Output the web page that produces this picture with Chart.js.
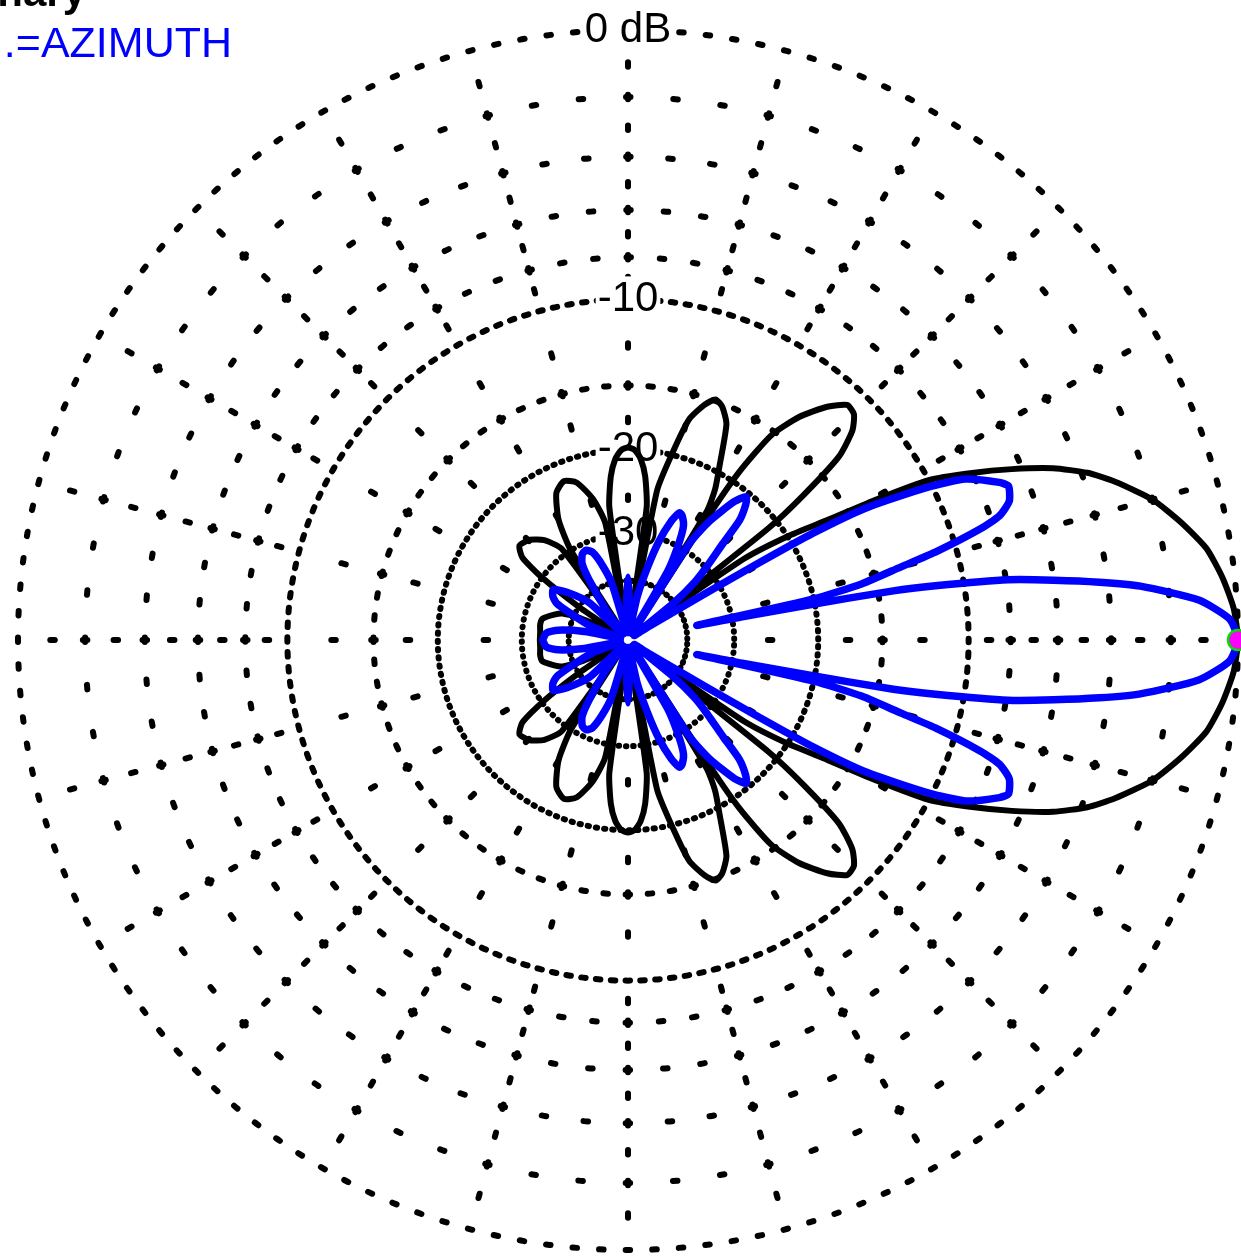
<!DOCTYPE html>
<html>
<head>
<meta charset="utf-8">
<script src="https://cdn.jsdelivr.net/npm/chart.js@4/dist/chart.umd.min.js"></script>
<style>
  html, body { margin: 0; padding: 0; background: #fff; overflow: hidden; width: 1241px; height: 1258px; }
  #polar { position: absolute; left: -5px; top: 0; }
</style>
</head>
<body>
<canvas id="polar" width="1267" height="1274"></canvas>
<script>
// azimuth in degrees (0 = right, counter-clockwise), gain in dB
const blackAz = [
  -180, -175, -170, -166, -161, -158, -155.5, -153, -148, -146, -144, -142, -139, -134.5, -130, -126,
  -124, -122.5, -120, -116, -112, -108, -104, -101, -99.5, -98, -96, -94, -92, -90, -88, -86, -84, -82,
  -80.5, -79, -76.5, -74.5, -72, -70, -68, -65.5, -62.5, -60, -58.5, -57.5, -57, -56.5, -55, -52.5,
  -49.5, -47, -45, -43, -41, -39.5, -38.5, -37.5, -35, -33, -31, -29.5, -28, -26, -24, -22, -20, -18,
  -15, -12, -9, -6, -3,
  0, 3, 6, 9, 12, 15, 18, 20, 22, 24, 26, 28, 29.5, 31, 33, 35, 37.5, 38.5, 39.5, 41, 43, 45, 47, 49.5,
  52.5, 55, 56.5, 57, 57.5, 58.5, 60, 62.5, 65.5, 68, 70, 72, 74.5, 76.5, 79, 80.5, 82, 84, 86, 88, 90,
  92, 94, 96, 98, 99.5, 101, 104, 108, 112, 116, 120, 122.5, 124, 126, 130, 134.5, 139, 142, 144, 146,
  148, 153, 155.5, 158, 161, 166, 170, 175
];
const blackDb = [
  -33.2, -33.2, -33.0, -33.2, -35.3, -37, -42, -55, -70, -40, -30, -26, -24.8, -25.2, -26.5, -29,
  -70, -30, -25.4, -22.6, -21.8, -22.4, -24.6, -28, -70, -26, -22.5, -20.8, -20, -19.8, -20, -20.8, -22.5, -26,
  -70, -23.8, -19.6, -16.8, -15.5, -14.9, -15.2, -16.2, -19.2, -21.5, -24, -70, -24, -19, -15.3, -13.3,
  -11.8, -11.0, -11.1, -11.8, -13.4, -17, -21, -45, -25, -20, -16.5, -13, -10.0, -8.1, -6.4, -4.9, -3.8, -3.0,
  -2.0, -1.3, -0.7, -0.35, -0.1,
  0, -0.1, -0.35, -0.7, -1.3, -2.0, -3.0, -3.8, -4.9, -6.4, -8.1, -10.0, -13, -16.5, -20, -25, -45, -21, -17, -13.4, -11.8, -11.1, -11.0, -11.8,
  -13.3, -15.3, -19, -24, -70, -24, -21.5, -19.2, -16.2, -15.2, -14.9, -15.5, -16.8, -19.6, -23.8, -70, -26, -22.5, -20.8, -20, -19.8,
  -20, -20.8, -22.5, -26, -70, -28, -24.6, -22.4, -21.8, -22.6, -25.4, -30, -70, -29, -26.5, -25.2, -24.8, -26, -30, -40,
  -70, -55, -42, -37, -35.3, -33.2, -33.0, -33.2
];

const blueAz = [
  -180, -175, -172, -169, -165, -160, -157, -153, -150, -146, -142, -136, -130, -126, -123, -121, -118,
  -115, -112, -109, -106, -100, -96, -92, -90, -88, -84, -78, -75, -72.5, -70, -68, -66.5, -64, -62, -60,
  -58.5, -57.5, -55.5, -52.5, -50.5, -49, -47, -45.5, -43, -41, -39, -36, -33, -31, -30.5, -30, -29, -27,
  -25.5, -23, -22, -20, -18.5, -17.5, -16, -15, -13.5, -12.5, -12, -11.5, -11, -10.5, -10, -9, -8, -7,
  -6, -4, -2,
  0, 2, 4, 6, 7, 8, 9, 10, 10.5, 11, 11.5, 12, 12.5, 13.5, 15, 16, 17.5, 18.5, 20, 22, 23, 25.5, 27, 29,
  30, 30.5, 31, 33, 36, 39, 41, 43, 45.5, 47, 49, 50.5, 52.5, 55.5, 57.5, 58.5, 60, 62, 64, 66.5, 68, 70,
  72.5, 75, 78, 84, 88, 90, 92, 96, 100, 106, 109, 112, 115, 118, 121, 123, 126, 130, 136, 142, 146, 150,
  153, 157, 160, 165, 169, 172, 175
];
const blueDb = [
  -33.8, -34.5, -37, -45, -75, -48, -42, -35, -33.5, -32.8, -35.4, -41.7, -75, -48, -37, -33, -31.5,
  -31.2, -32, -35, -40, -75, -75, -48, -39, -48, -75, -45, -36, -30.3, -27, -25.6, -25.8, -27, -30, -35,
  -75, -28.6, -24.7, -21.5, -20.4, -21, -22.6, -25.8, -29.7, -33, -40, -75, -55, -33, -24, -18, -13.8, -10.2,
  -8.4, -7.1, -6.8, -7.0, -7.6, -8.6, -11, -13.2, -16, -20, -37, -28, -21, -14, -11.5, -7.9, -6.0, -4.3,
  -2.9, -1.1, -0.23,
  0, -0.23, -1.1, -2.9, -4.3, -6.0, -7.9, -11.5, -14, -21, -28, -37, -20, -16, -13.2, -11, -8.6, -7.6, -7.0, -6.8, -7.1, -8.4, -10.2, -13.8,
  -18, -24, -33, -55, -75, -40, -33, -29.7, -25.8, -22.6, -21, -20.4, -21.5, -24.7, -28.6, -75, -35, -30, -27, -25.8, -25.6, -27,
  -30.3, -36, -45, -75, -48, -39, -48, -75, -75, -40, -35, -32, -31.2, -31.5, -33, -37, -48, -75, -41.7, -35.4, -32.8, -33.5,
  -35, -42, -48, -75, -45, -37, -34.5
];

const markerAz = [0];
const markerDb = [0];

// grid rings (dB), dot spacing along each ring (degrees) and the labels
const ringDb      = [-40, -30, -20, -15, -10, -8, -6, -4, -2, 0];
const ringStepDeg = [6,   4,   2.5, 5,   2.5, 5,  5,  5,  5,  2.5];
const ringText    = ['', '-30', '-20', '', '-10', '', '', '', '', '0 dB'];
// radial spokes every 15 degrees, dotted at these levels
const spokeEveryDeg = 15;
const spokeDotDb = [-1, -2, -3, -4, -5, -6, -7, -8, -9, -12.5, -15, -17.5, -25];

const STEP = 0.5;
const N = 360 / STEP;
const DOT = 4.5;
const SHIFT_X = 5; // canvas sits 5px left of the page edge

// ARRL log-periodic radius: 0.89 per 2 dB
function arrl(db) { return Math.pow(0.89, -db / 2); }
function idxOf(az) { return Math.round((((90 - az) % 360) + 360) % 360 / STEP); }
function toSeries(az, db) {
  const out = new Array(N).fill(null);
  az.forEach((a, i) => { out[idxOf(a)] = arrl(db[i]); });
  return out;
}

const labels = [];
for (let i = 0; i < N; i++) labels.push(String(90 - i * STEP));
const tickText = [''].concat(ringText);

function spokePositions(scale) {
  return spokeDotDb.map(db => scale.getDistanceFromCenterForValue(arrl(db))).sort((a, b) => a - b);
}
function spokeDash(scale) {
  const pos = spokePositions(scale);
  const pat = [];
  pos.forEach((p, i) => {
    pat.push(DOT);
    pat.push(i < pos.length - 1 ? pos[i + 1] - p - DOT : 5000);
  });
  return pat;
}

const textPlugin = {
  id: 'textPlugin',
  beforeDraw(chart) { chart.ctx.lineCap = 'round'; },
  afterDraw(chart) {
    const c = chart.ctx;
    c.save();
    c.textAlign = 'right';
    c.textBaseline = 'alphabetic';
    c.font = 'bold 42px "Liberation Sans", Arial, sans-serif';
    c.fillStyle = '#000';
    c.fillText('nary', 86 + SHIFT_X, 6);
    c.font = '43px "Liberation Sans", Arial, sans-serif';
    c.fillStyle = '#0000ff';
    c.fillText('.=AZIMUTH', 232 + SHIFT_X, 57);
    c.restore();
  }
};

new Chart(document.getElementById('polar'), {
  type: 'radar',
  data: {
    labels: labels,
    datasets: [
      {
        label: 'max',
        data: toSeries(markerAz, markerDb),
        showLine: false,
        pointRadius: 10,
        pointBackgroundColor: '#ff00ff',
        pointBorderColor: '#00e000',
        pointBorderWidth: 2.5,
        order: 0
      },
      {
        label: 'AZIMUTH',
        data: toSeries(blueAz, blueDb),
        borderColor: '#0000ff',
        backgroundColor: 'transparent',
        borderWidth: 7.5,
        borderJoinStyle: 'round',
        tension: 0.2,
        pointRadius: 0,
        fill: false,
        spanGaps: true,
        order: 1
      },
      {
        label: 'total',
        data: toSeries(blackAz, blackDb),
        borderColor: '#000000',
        backgroundColor: 'transparent',
        borderWidth: 6,
        borderJoinStyle: 'round',
        tension: 0.2,
        pointRadius: 0,
        fill: false,
        spanGaps: true,
        order: 2
      }
    ]
  },
  options: {
    responsive: false,
    devicePixelRatio: 1,
    animation: false,
    events: [],
    layout: { padding: { left: 0, right: 0, top: 7, bottom: 0 } },
    plugins: { legend: { display: false }, tooltip: { enabled: false } },
    scales: {
      r: {
        min: 0,
        max: 1,
        startAngle: 0,
        afterBuildTicks: (scale) => {
          scale.ticks = [0].concat(ringDb.map(arrl)).map(v => ({ value: v }));
        },
        pointLabels: { display: false },
        grid: {
          circular: true,
          color: '#000',
          lineWidth: 6
        },
        border: {
          dash: (c) => {
            const k = c.index - 1;
            if (k < 0) return [];
            const r = c.scale.getDistanceFromCenterForValue(arrl(ringDb[k]));
            const s = 2 * Math.PI * r * ringStepDeg[k] / 360;
            const d = Math.min(DOT, Math.max(0.5, s - 7));
            return [d, s - d];
          },
          dashOffset: (c) => DOT / 2
        },
        angleLines: {
          display: true,
          color: (c) => (c.index % (spokeEveryDeg / STEP) === 0 ? '#000' : null),
          lineWidth: (c) => (c.index % (spokeEveryDeg / STEP) === 0 ? 6 : 0),
          borderDash: (c) => spokeDash(c.scale),
          borderDashOffset: (c) => -(spokePositions(c.scale)[0] - DOT / 2)
        },
        ticks: {
          display: true,
          callback: (v, i) => tickText[i],
          font: { family: '"Liberation Sans", Arial, sans-serif', size: 42 },
          color: '#000',
          backdropColor: '#fff',
          backdropPadding: 2,
          showLabelBackdrop: (c) => !!tickText[c.index]
        }
      }
    }
  },
  plugins: [textPlugin]
});
</script>
</body>
</html>
